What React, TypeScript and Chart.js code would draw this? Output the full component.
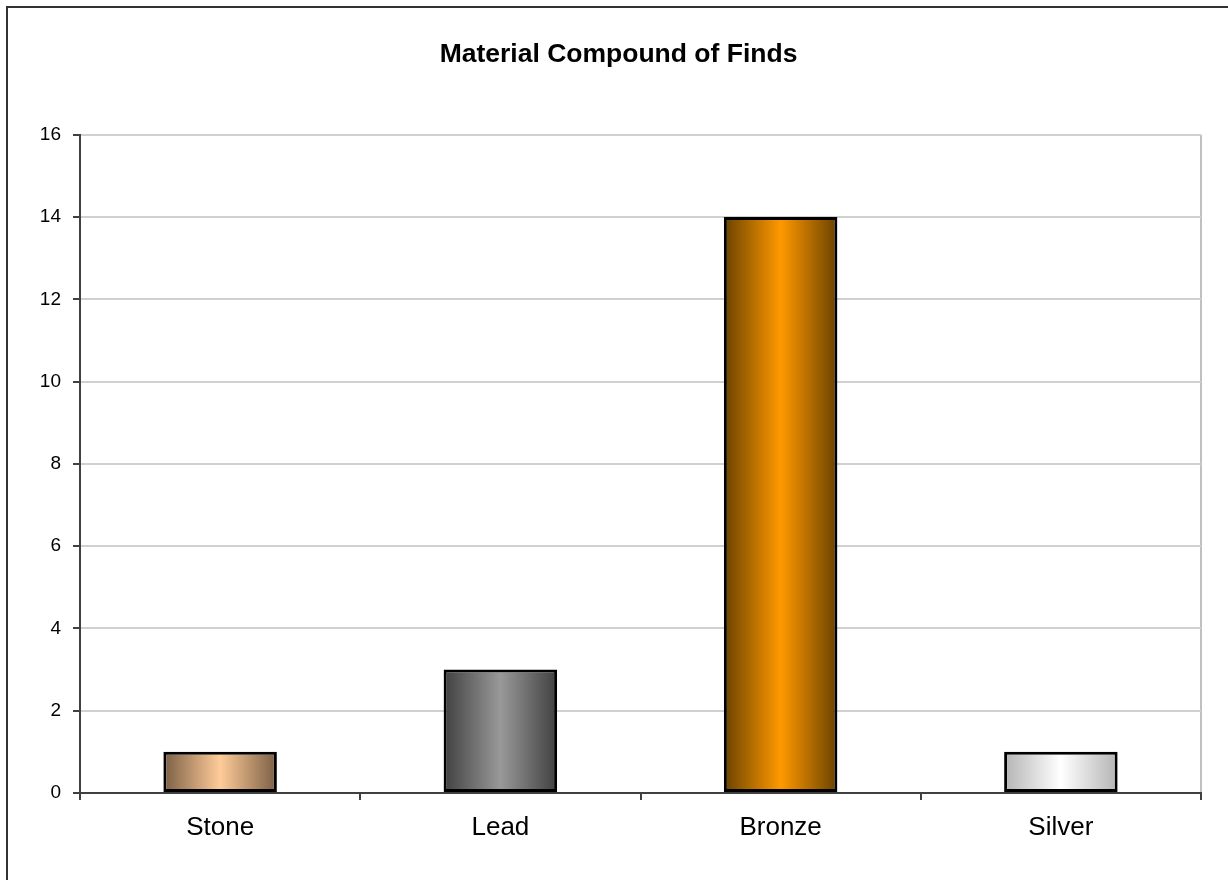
import React, { useEffect, useRef } from "react";
import { Chart, registerables } from "chart.js";

Chart.register(...registerables);

const titleText = "Material Compound of Finds";
const categories = ["Stone", "Lead", "Bronze", "Silver"];
const counts = [1, 3, 14, 1];
const yMin = 0;
const yMax = 16;
const yStep = 2;
const edgeColors = ["#7a5e44", "#404040", "#6a4200", "#b4b4b4"];
const centerColors = ["#ffcc99", "#999999", "#ff9900", "#ffffff"];

const FONT = "'Liberation Sans', Arial, Helvetica, sans-serif";
const CAT_PCT = 0.405;

export default function App() {
  const canvasRef = useRef<HTMLCanvasElement | null>(null);

  useEffect(() => {
    const canvas = canvasRef.current;
    if (!canvas) return;
    const chart = new Chart(canvas, {
      type: "bar",
      data: {
        labels: categories,
        datasets: [
          {
            data: counts,
            categoryPercentage: CAT_PCT,
            barPercentage: 1,
            borderColor: "#000000",
            borderWidth: 3,
            borderSkipped: false,
            backgroundColor: (ctx: any) => {
              const c = ctx.chart;
              const i = ctx.dataIndex ?? 0;
              const xs = c.scales?.x;
              if (!c.chartArea || !xs || ctx.type !== "data") return centerColors[i];
              const cx = xs.getPixelForValue(i);
              const w = (xs.width / categories.length) * CAT_PCT;
              const g = c.ctx.createLinearGradient(cx - w / 2, 0, cx + w / 2, 0);
              g.addColorStop(0, edgeColors[i]);
              g.addColorStop(0.5, centerColors[i]);
              g.addColorStop(1, edgeColors[i]);
              return g;
            },
          },
        ],
      },
      options: {
        responsive: false,
        animation: false,
        layout: { padding: { left: 36, right: 27, top: 0, bottom: 0 } },
        plugins: {
          legend: { display: false },
          tooltip: { enabled: false },
          title: {
            display: true,
            text: titleText,
            color: "#000000",
            font: { family: FONT, size: 26.5, weight: "bold", lineHeight: 1.2 },
            padding: { top: 39, bottom: 64 },
          },
        },
        scales: {
          x: {
            grid: {
              offset: true,
              drawOnChartArea: true,
              drawTicks: true,
              tickLength: 7,
              lineWidth: 2,
              color: (ctx: any) => (ctx.type === "tick" ? "rgba(0,0,0,0)" : "#c0c0c0"),
              tickColor: "#404040",
            },
            border: { display: true, color: "#404040", width: 2 },
            ticks: {
              color: "#000000",
              font: { family: FONT, size: 26 },
              padding: 12,
              maxRotation: 0,
            },
            afterFit: (scale: any) => {
              scale.height = 87;
            },
          },
          y: {
            min: yMin,
            max: yMax,
            grid: {
              drawTicks: true,
              tickLength: 7,
              lineWidth: 2,
              color: "#d0d0d0",
              tickColor: "#404040",
            },
            border: { display: true, color: "#404040", width: 2 },
            ticks: {
              stepSize: yStep,
              color: "#000000",
              font: { family: FONT, size: 19 },
              padding: 12,
            },
            afterFit: (scale: any) => {
              scale.width = 44;
            },
          },
        },
      },
    } as any);
    return () => chart.destroy();
  }, []);

  return (
    <div
      style={{
        position: "fixed",
        left: 0,
        top: 0,
        width: 1228,
        height: 880,
        overflow: "hidden",
        background: "#ffffff",
      }}
    >
      <div
        style={{
          position: "absolute",
          left: 6,
          top: 6,
          width: 1400,
          height: 1000,
          borderLeft: "2px solid #333333",
          borderTop: "2px solid #333333",
        }}
      />
      <canvas
        ref={canvasRef}
        width={1228}
        height={880}
        style={{ position: "absolute", left: 0, top: 0, width: 1228, height: 880 }}
      />
    </div>
  );
}
